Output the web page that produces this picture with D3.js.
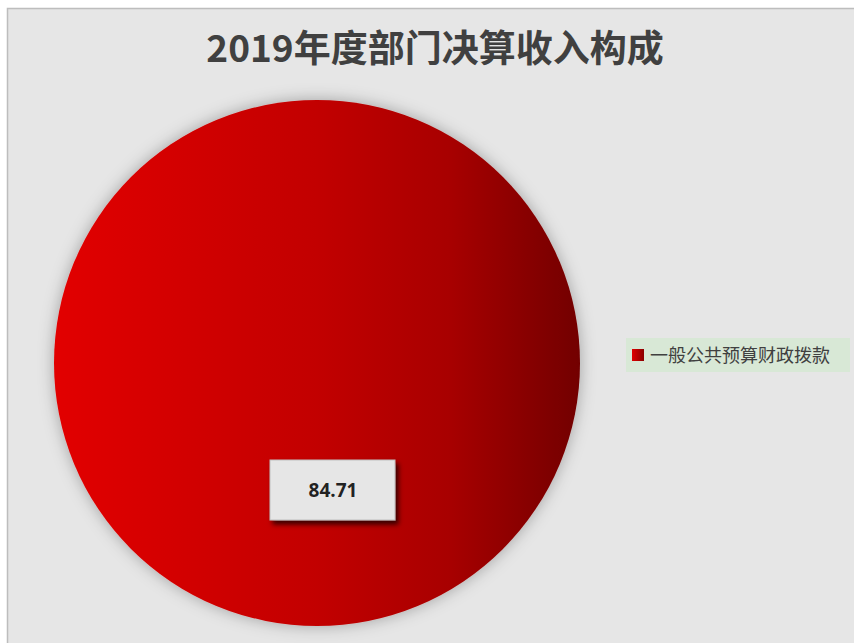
<!DOCTYPE html>
<html>
<head>
<meta charset="utf-8">
<script src="https://cdn.jsdelivr.net/npm/d3@7"></script>
<style>
  body { margin: 0; background: #fff; }
  svg { display: block; }
</style>
</head>
<body>
<div id="chart"></div>
<script>
// chart data
const title = "2019年度部门决算收入构成";
const categories = ["一般公共预算财政拨款"];
const values = [84.71];

const width = 854, height = 643;
const cx = 317, cy = 363, radius = 263;

const svg = d3.select("#chart")
    .append("svg")
    .attr("width", width)
    .attr("height", height);

const defs = svg.append("defs");

// horizontal red gradient across the pie
const grad = defs.append("linearGradient")
    .attr("id", "redGrad")
    .attr("x1", "0%").attr("x2", "100%")
    .attr("y1", "0%").attr("y2", "0%");
grad.append("stop").attr("offset", "0%").attr("stop-color", "#e20000");
grad.append("stop").attr("offset", "50%").attr("stop-color", "#c20000");
grad.append("stop").attr("offset", "75%").attr("stop-color", "#a80000");
grad.append("stop").attr("offset", "100%").attr("stop-color", "#720000");

const legendGrad = defs.append("linearGradient")
    .attr("id", "legendGrad")
    .attr("x1", "0%").attr("x2", "100%");
legendGrad.append("stop").attr("offset", "0%").attr("stop-color", "#e00000");
legendGrad.append("stop").attr("offset", "100%").attr("stop-color", "#8a0000");

const pieShadow = defs.append("filter")
    .attr("id", "pieShadow")
    .attr("x", "-20%").attr("y", "-20%")
    .attr("width", "140%").attr("height", "140%");
pieShadow.append("feDropShadow")
    .attr("dx", 0).attr("dy", 0)
    .attr("stdDeviation", 8)
    .attr("flood-color", "#000")
    .attr("flood-opacity", 0.3);

const boxShadow = defs.append("filter")
    .attr("id", "boxShadow")
    .attr("x", "-20%").attr("y", "-30%")
    .attr("width", "150%").attr("height", "170%");
boxShadow.append("feDropShadow")
    .attr("dx", 3).attr("dy", 4)
    .attr("stdDeviation", 2.5)
    .attr("flood-color", "#000")
    .attr("flood-opacity", 0.7);

// chart area background with border
svg.append("rect")
    .attr("x", 7.5).attr("y", 8.5)
    .attr("width", width).attr("height", height)
    .attr("fill", "#e6e6e6")
    .attr("stroke", "#bdbdbd")
    .attr("stroke-width", 1.5);

// title
svg.append("text")
    .attr("x", 435)
    .attr("y", 62)
    .attr("text-anchor", "middle")
    .attr("font-family", "'Noto Sans CJK SC', sans-serif")
    .attr("font-size", 37)
    .attr("font-weight", "bold")
    .attr("fill", "#404040")
    .text(title);

// pie
const pie = d3.pie().sort(null).value(d => d);
const arc = d3.arc().innerRadius(0).outerRadius(radius);
const arcs = pie(values);

const g = svg.append("g")
    .attr("transform", `translate(${cx},${cy})`);

g.selectAll("path")
    .data(arcs)
    .enter().append("path")
    .attr("d", arc)
    .attr("fill", "url(#redGrad)")
    .attr("filter", "url(#pieShadow)");

// data label
const labelPos = [333 - cx, 490 - cy];
const lbl = g.selectAll(".lbl")
    .data(arcs)
    .enter().append("g")
    .attr("class", "lbl")
    .attr("transform", `translate(${labelPos[0]},${labelPos[1]})`);

lbl.append("rect")
    .attr("x", -63).attr("y", -30)
    .attr("width", 125).attr("height", 60)
    .attr("fill", "#e6e6e6")
    .attr("stroke", "#bfbfbf")
    .attr("stroke-width", 1)
    .attr("filter", "url(#boxShadow)");

lbl.append("text")
    .attr("text-anchor", "middle")
    .attr("dy", "0.36em")
    .attr("font-family", "'Open Sans', 'Noto Sans', sans-serif")
    .attr("font-size", 19)
    .attr("font-weight", "bold")
    .attr("fill", "#222")
    .text(d => d.data.toFixed(2));

// legend
const legend = svg.append("g")
    .attr("transform", "translate(626,338)");

legend.append("rect")
    .attr("width", 224).attr("height", 34)
    .attr("fill", "#d8e8d6");

categories.forEach((c, i) => {
    legend.append("rect")
        .attr("x", 6).attr("y", 11 + i * 24)
        .attr("width", 12).attr("height", 12)
        .attr("fill", "url(#legendGrad)");
    legend.append("text")
        .attr("x", 24).attr("y", 17.5 + i * 24)
        .attr("dy", "0.35em")
        .attr("font-family", "'Noto Sans CJK SC', sans-serif")
        .attr("font-size", 18)
        .attr("fill", "#404040")
        .text(c);
});
</script>
</body>
</html>
